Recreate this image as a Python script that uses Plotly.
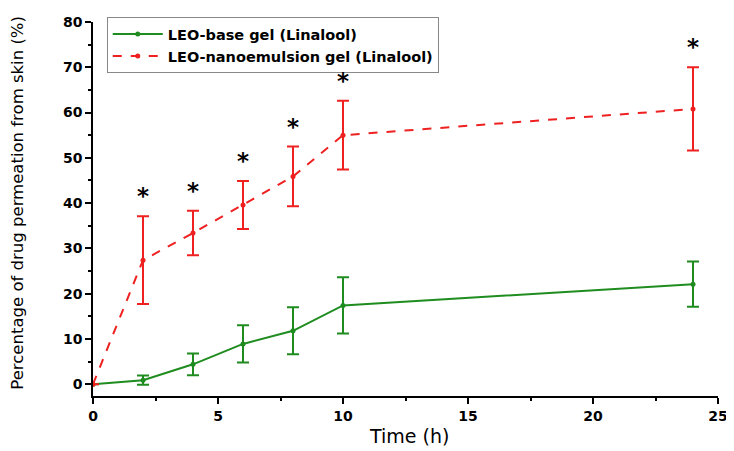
import plotly.graph_objects as go

time_h = [0, 2, 4, 6, 8, 10, 24]
base_gel = [0, 0.9, 4.4, 8.9, 11.8, 17.4, 22.1]
base_err = [0, 1.0, 2.4, 4.1, 5.2, 6.2, 5.0]
nano_gel = [0, 27.4, 33.4, 39.6, 45.9, 55.0, 60.8]
nano_err = [0, 9.7, 4.9, 5.3, 6.6, 7.6, 9.2]
sig_times = [2, 4, 6, 8, 10, 24]
sig_labels = ["*", "*", "*", "*", "*", "*"]

green = "#1e8c1e"
red = "#ee2020"

fig = go.Figure()
fig.add_trace(go.Scatter(
    x=time_h, y=base_gel, name="LEO-base gel (Linalool)",
    mode="lines+markers",
    line=dict(color=green, width=2),
    marker=dict(color=green, size=5),
    error_y=dict(type="data", array=base_err, color=green, thickness=2, width=6),
))
fig.add_trace(go.Scatter(
    x=time_h, y=nano_gel, name="LEO-nanoemulsion gel (Linalool)",
    mode="lines+markers",
    line=dict(color=red, width=2, dash="dash"),
    marker=dict(color=red, size=5),
    error_y=dict(type="data", array=nano_err, color=red, thickness=2, width=6),
))
for t, lab in zip(sig_times, sig_labels):
    i = time_h.index(t)
    fig.add_annotation(
        x=t, y=nano_gel[i] + nano_err[i], text=lab, showarrow=False,
        xanchor="center", yanchor="bottom", yshift=6, borderpad=0,
        font=dict(family="DejaVu Sans", size=23, color="black", weight="bold"),
    )

axis_common = dict(
    showline=True, linecolor="black", linewidth=1.5,
    ticks="outside", ticklen=6, tickwidth=1.5, tickcolor="black",
    showgrid=False, zeroline=False, mirror=False, automargin=False,
    tickfont=dict(family="DejaVu Sans", size=14, color="black", weight="bold"),
)
fig.update_xaxes(
    range=[0, 25], tickvals=[0, 5, 10, 15, 20, 25],
    minor=dict(ticks="outside", ticklen=3, tickwidth=1.5, tickcolor="black", dtick=2.5, tick0=0),
    **axis_common,
)
fig.update_yaxes(
    range=[-2.6, 80], tickvals=[0, 10, 20, 30, 40, 50, 60, 70, 80],
    minor=dict(ticks="outside", ticklen=3, tickwidth=1.5, tickcolor="black", dtick=5, tick0=0),
    **axis_common,
)
fig.add_annotation(
    text="Time (h)", xref="paper", yref="paper", x=0.506, y=-0.108,
    xanchor="center", yanchor="middle", showarrow=False,
    font=dict(family="DejaVu Sans", size=19, color="black"),
)
fig.add_annotation(
    text="Percentage of drug permeation from skin (%)", xref="paper", yref="paper",
    x=-0.12, y=0.517, xanchor="center", yanchor="middle", textangle=-90, showarrow=False,
    font=dict(family="DejaVu Sans", size=16.5, color="black"),
)
fig.update_layout(
    width=726, height=443,
    margin=dict(l=85, r=16, t=9, b=55),
    plot_bgcolor="white", paper_bgcolor="white",
    showlegend=True,
    legend=dict(
        x=0.022, y=1.013, xanchor="left", yanchor="top",
        bordercolor="#888888", borderwidth=1, bgcolor="white",
        font=dict(family="DejaVu Sans", size=14.5, color="black", weight="bold"),
        tracegroupgap=0, itemwidth=50,
    ),
)
fig.write_html("out.html")
